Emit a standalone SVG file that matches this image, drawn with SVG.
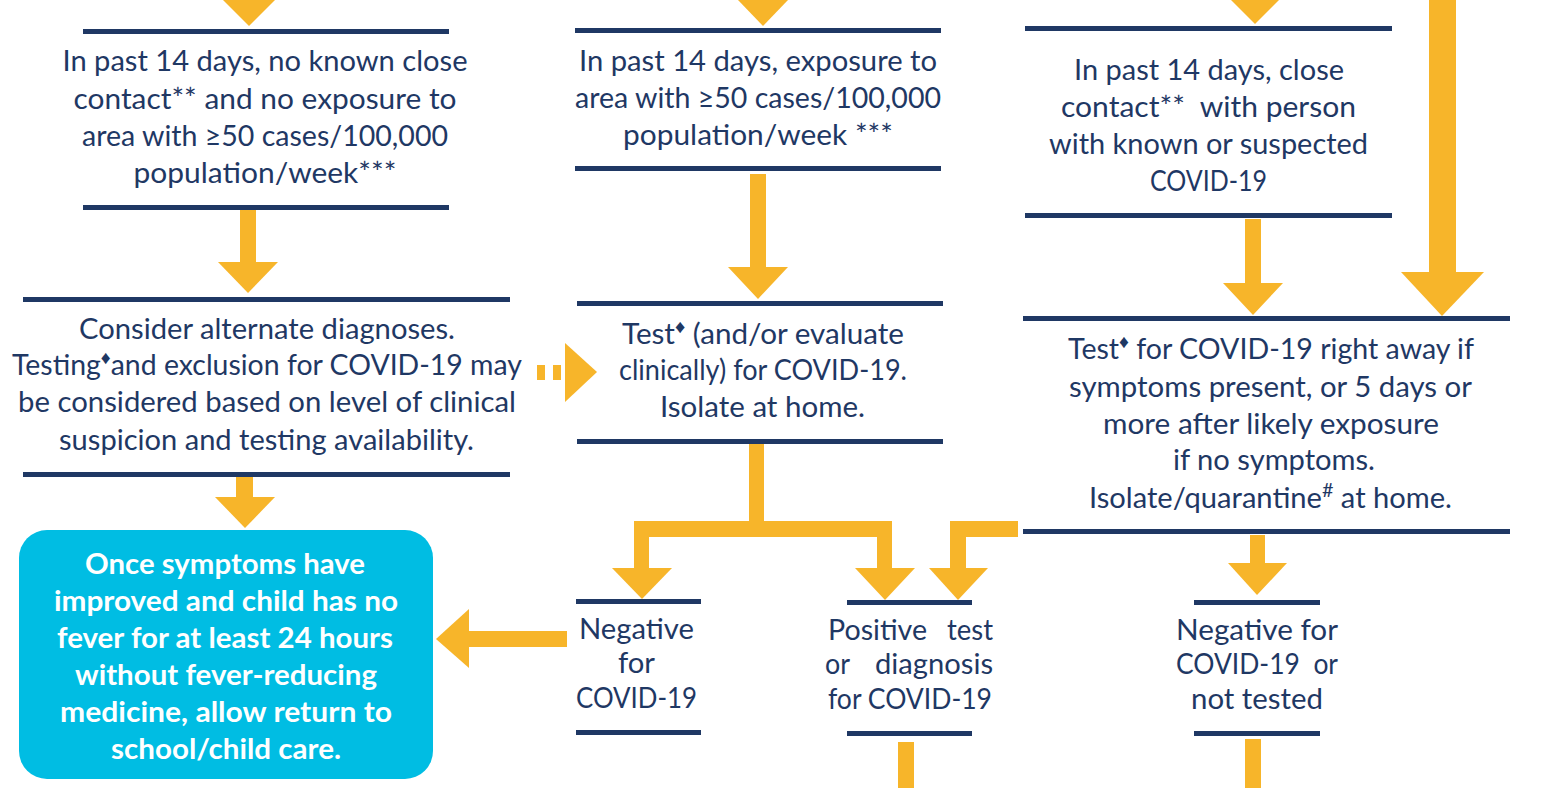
<svg xmlns="http://www.w3.org/2000/svg" width="1559" height="788" viewBox="0 0 1559 788">
<style>
.bar{fill:#1f3864}
.arr{fill:#f7b52a}
.t{font-family:Lato,"Open Sans","Liberation Sans",sans-serif;font-size:28px;fill:#1f3864;text-anchor:middle}
.tl{text-anchor:start}
.tr{text-anchor:end}
.pre{white-space:pre}
.w{font-family:Lato,"Open Sans","Liberation Sans",sans-serif;font-size:28px;font-weight:bold;fill:#ffffff;text-anchor:middle}
.sup{font-size:19px}
</style>
<rect width="1559" height="788" fill="#ffffff"/>
<g id="connectors">
  <polygon class="arr" points="223,0 275,0 249,26"/>
  <polygon class="arr" points="738,0 788,0 763,26"/>
  <polygon class="arr" points="1231,0 1279,0 1255,24"/>
  <rect class="arr" x="1429" y="0" width="27" height="272"/>
  <polygon class="arr" points="1401,272 1484,272 1442,316"/>
  <rect class="arr" x="240" y="210" width="16" height="53"/>
  <polygon class="arr" points="218,262 278,262 248,293"/>
  <rect class="arr" x="750" y="174" width="16" height="94"/>
  <polygon class="arr" points="728,267 788,267 758,299"/>
  <rect class="arr" x="1245" y="219" width="16" height="65"/>
  <polygon class="arr" points="1223,283 1283,283 1253,315"/>
  <rect class="arr" x="236" y="477" width="17" height="21"/>
  <polygon class="arr" points="215,497 275,497 245,528"/>
  <rect class="arr" x="537" y="365" width="8" height="15"/>
  <rect class="arr" x="553" y="365" width="8" height="15"/>
  <polygon class="arr" points="565,343 565,402 597,372"/>
  <rect class="arr" x="749" y="443" width="15" height="80"/>
  <rect class="arr" x="634" y="521" width="258" height="16"/>
  <rect class="arr" x="634" y="521" width="15" height="48"/>
  <polygon class="arr" points="612,568 672,568 642,599"/>
  <rect class="arr" x="877" y="521" width="15" height="48"/>
  <polygon class="arr" points="855,568 915,568 885,600"/>
  <rect class="arr" x="950" y="521" width="68" height="16"/>
  <rect class="arr" x="950" y="521" width="16" height="48"/>
  <polygon class="arr" points="929,568 988,568 958,600"/>
  <rect class="arr" x="1250" y="535" width="15" height="29"/>
  <polygon class="arr" points="1228,563 1287,563 1257,595"/>
  <rect class="arr" x="1245" y="739" width="16" height="49"/>
  <rect class="arr" x="898" y="742" width="16" height="46"/>
  <rect class="arr" x="468" y="631" width="99" height="16"/>
  <polygon class="arr" points="469,609 469,668 436,639"/>
</g>
<g id="node-no-contact">
  <rect class="bar" x="83" y="29" width="366" height="5"/>
  <rect class="bar" x="83" y="205" width="366" height="5"/>
  <text class="t" x="265" y="71" textLength="405" lengthAdjust="spacingAndGlyphs">In past 14 days, no known close</text>
  <text class="t" x="265" y="108.5" textLength="383" lengthAdjust="spacingAndGlyphs">contact** and no exposure to</text>
  <text class="t" x="265" y="146" textLength="366" lengthAdjust="spacingAndGlyphs">area with ≥50 cases/100,000</text>
  <text class="t" x="265" y="183" textLength="263" lengthAdjust="spacingAndGlyphs">population/week***</text>
</g>
<g id="node-area-exposure">
  <rect class="bar" x="575" y="28" width="366" height="5"/>
  <rect class="bar" x="575" y="166" width="366" height="5"/>
  <text class="t" x="758" y="70.5" textLength="358" lengthAdjust="spacingAndGlyphs">In past 14 days, exposure to</text>
  <text class="t" x="758" y="107.5" textLength="366" lengthAdjust="spacingAndGlyphs">area with ≥50 cases/100,000</text>
  <text class="t" x="758" y="145" textLength="270" lengthAdjust="spacingAndGlyphs">population/week ***</text>
</g>
<g id="node-close-contact">
  <rect class="bar" x="1025" y="26" width="367" height="5"/>
  <rect class="bar" x="1025" y="213" width="367" height="5"/>
  <text class="t" x="1209" y="79.5" textLength="270" lengthAdjust="spacingAndGlyphs">In past 14 days, close</text>
  <text class="t pre" x="1208.5" y="116.5" textLength="295" lengthAdjust="spacingAndGlyphs">contact**  with person</text>
  <text class="t" x="1208.5" y="154" textLength="319" lengthAdjust="spacingAndGlyphs">with known or suspected</text>
  <text class="t" x="1208.5" y="191" textLength="117" lengthAdjust="spacingAndGlyphs">COVID-19</text>
</g>
<g id="node-alternate">
  <rect class="bar" x="23" y="297" width="487" height="5"/>
  <rect class="bar" x="23" y="472" width="487" height="5"/>
  <text class="t" x="267" y="338.5" textLength="376" lengthAdjust="spacingAndGlyphs">Consider alternate diagnoses.</text>
  <text class="t" x="267" y="375" textLength="510" lengthAdjust="spacingAndGlyphs">Testing<tspan class="sup" dy="-11">♦</tspan><tspan dy="11">and exclusion for COVID-19 may</tspan></text>
  <text class="t" x="267" y="412" textLength="498" lengthAdjust="spacingAndGlyphs">be considered based on level of clinical</text>
  <text class="t" x="266.5" y="449.5" textLength="415" lengthAdjust="spacingAndGlyphs">suspicion and testing availability.</text>
</g>
<g id="node-test-evaluate">
  <rect class="bar" x="577" y="301" width="366" height="5"/>
  <rect class="bar" x="577" y="439" width="366" height="5"/>
  <text class="t" x="763" y="343.5" textLength="282" lengthAdjust="spacingAndGlyphs">Test<tspan class="sup" dy="-11">♦</tspan><tspan dy="11"> (and/or evaluate</tspan></text>
  <text class="t" x="763" y="380" textLength="288" lengthAdjust="spacingAndGlyphs">clinically) for COVID-19.</text>
  <text class="t" x="762.5" y="417" textLength="205" lengthAdjust="spacingAndGlyphs">Isolate at home.</text>
</g>
<g id="node-test-right-away">
  <rect class="bar" x="1023" y="316" width="487" height="5"/>
  <rect class="bar" x="1023" y="529" width="487" height="5"/>
  <text class="t" x="1271" y="358.5" textLength="406" lengthAdjust="spacingAndGlyphs">Test<tspan class="sup" dy="-11">♦</tspan><tspan dy="11"> for COVID-19 right away if</tspan></text>
  <text class="t" x="1270.5" y="396.5" textLength="403" lengthAdjust="spacingAndGlyphs">symptoms present, or 5 days or</text>
  <text class="t" x="1271" y="433.5" textLength="336" lengthAdjust="spacingAndGlyphs">more after likely exposure</text>
  <text class="t" x="1274" y="470" textLength="202" lengthAdjust="spacingAndGlyphs">if no symptoms.</text>
  <text class="t" x="1270.5" y="507.5" textLength="363" lengthAdjust="spacingAndGlyphs">Isolate/quarantine<tspan class="sup" dy="-11">#</tspan><tspan dy="11"> at home.</tspan></text>
</g>
<g id="node-negative">
  <rect class="bar" x="576" y="599" width="125" height="5"/>
  <rect class="bar" x="576" y="730" width="125" height="5"/>
  <text class="t" x="636.5" y="638.5" textLength="115" lengthAdjust="spacingAndGlyphs">Negative</text>
  <text class="t" x="636.5" y="672.5" textLength="37" lengthAdjust="spacingAndGlyphs">for</text>
  <text class="t" x="636.5" y="707.5" textLength="121" lengthAdjust="spacingAndGlyphs">COVID-19</text>
</g>
<g id="node-positive">
  <rect class="bar" x="847" y="600" width="125" height="5"/>
  <rect class="bar" x="847" y="731" width="125" height="5"/>
  <text class="t tl" x="828" y="639.5" textLength="99" lengthAdjust="spacingAndGlyphs">Positive</text>
  <text class="t tr" x="993" y="639.5" textLength="46" lengthAdjust="spacingAndGlyphs">test</text>
  <text class="t tl" x="825" y="673.5" textLength="25" lengthAdjust="spacingAndGlyphs">or</text>
  <text class="t tr" x="993" y="673.5" textLength="118" lengthAdjust="spacingAndGlyphs">diagnosis</text>
  <text class="t tl" x="828" y="708.5" textLength="164" lengthAdjust="spacingAndGlyphs">for COVID-19</text>
</g>
<g id="node-negative-not-tested">
  <rect class="bar" x="1194" y="600" width="126" height="5"/>
  <rect class="bar" x="1194" y="731" width="126" height="5"/>
  <text class="t" x="1257" y="640" textLength="162" lengthAdjust="spacingAndGlyphs">Negative for</text>
  <text class="t pre" x="1257" y="673.5" textLength="162" lengthAdjust="spacingAndGlyphs">COVID-19  or</text>
  <text class="t" x="1257" y="708.5" textLength="132" lengthAdjust="spacingAndGlyphs">not tested</text>
</g>
<g id="node-return">
  <rect x="19" y="530" width="414" height="249" rx="28" ry="28" fill="#00bde3"/>
  <text class="w" x="225" y="573.5" textLength="280" lengthAdjust="spacingAndGlyphs">Once symptoms have</text>
  <text class="w" x="226" y="610.5" textLength="344" lengthAdjust="spacingAndGlyphs">improved and child has no</text>
  <text class="w" x="225" y="647.5" textLength="336" lengthAdjust="spacingAndGlyphs">fever for at least 24 hours</text>
  <text class="w" x="226" y="684.5" textLength="302" lengthAdjust="spacingAndGlyphs">without fever-reducing</text>
  <text class="w" x="226" y="721.5" textLength="332" lengthAdjust="spacingAndGlyphs">medicine, allow return to</text>
  <text class="w" x="226" y="758.5" textLength="230" lengthAdjust="spacingAndGlyphs">school/child care.</text>
</g>
</svg>
